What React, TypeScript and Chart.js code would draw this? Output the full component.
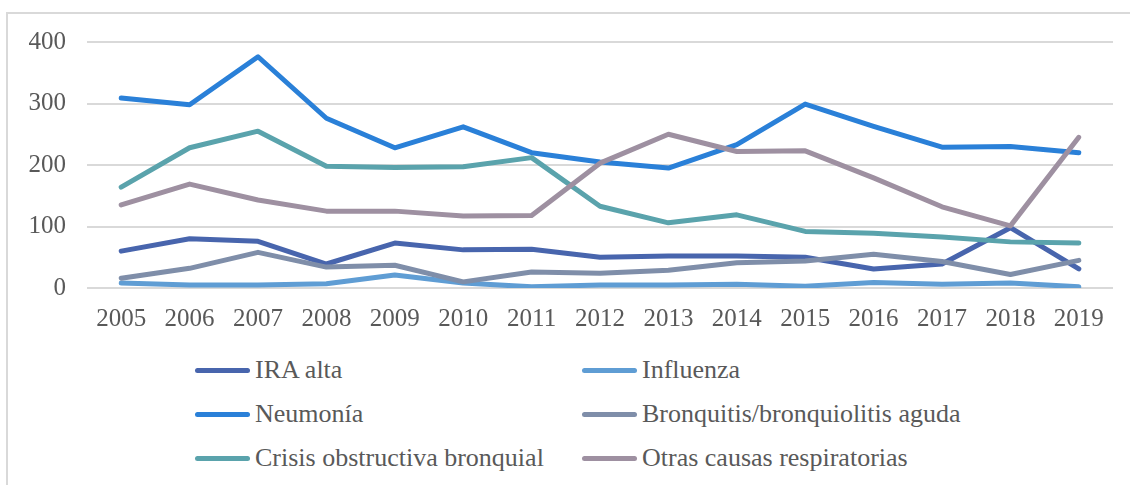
import React, { useEffect, useRef } from "react";
import { Chart, registerables } from "chart.js";

Chart.register(...registerables);

const years = ["2005","2006","2007","2008","2009","2010","2011","2012","2013","2014","2015","2016","2017","2018","2019"];
const iraAlta = [60, 80, 76, 39, 73, 62, 63, 50, 52, 52, 50, 31, 39, 98, 31];
const influenza = [8, 5, 5, 7, 21, 8, 2, 5, 5, 6, 3, 9, 6, 8, 2];
const neumonia = [309, 298, 376, 276, 228, 262, 220, 205, 195, 233, 299, 263, 229, 230, 220];
const bronquitis = [16, 32, 58, 34, 37, 10, 26, 24, 29, 41, 44, 55, 43, 22, 45];
const crisis = [164, 228, 255, 198, 196, 197, 212, 133, 106, 119, 92, 89, 83, 75, 73];
const otras = [135, 169, 143, 125, 125, 117, 118, 203, 250, 222, 223, 179, 132, 101, 245];
const yTicks = [0, 100, 200, 300, 400];

const seriesNames = ["IRA alta", "Influenza", "Neumonía", "Bronquitis/bronquiolitis aguda", "Crisis obstructiva bronquial", "Otras causas respiratorias"];
const seriesData = [iraAlta, influenza, neumonia, bronquitis, crisis, otras];
const seriesColors = ["#4865AD", "#5F9DD4", "#2A80D8", "#7F8EA9", "#5AA3AC", "#9E90A1"];

const FONT = "'Liberation Serif', serif";
const TEXT = "#595959";

export default function App() {
  const ref = useRef<HTMLCanvasElement | null>(null);
  useEffect(() => {
    if (!ref.current) return;
    const chart = new Chart(ref.current, {
      type: "line",
      data: {
        labels: years,
        datasets: seriesData.map((d, i) => ({
          label: seriesNames[i],
          data: d,
          borderColor: seriesColors[i],
          backgroundColor: seriesColors[i],
          borderWidth: 5,
          pointRadius: 0,
          tension: 0,
          borderCapStyle: "round" as const,
          borderJoinStyle: "round" as const,
          order: seriesData.length - i,
        })),
      },
      options: {
        animation: false,
        responsive: false,
        maintainAspectRatio: false,
        layout: { padding: { left: 0, right: 17, top: 42, bottom: 0 } },
        plugins: { legend: { display: false }, tooltip: { enabled: false } },
        scales: {
          x: {
            offset: true,
            grid: { display: false, drawTicks: false },
            border: { display: false },
            ticks: { padding: 16, color: TEXT, font: { family: FONT, size: 25 }, maxRotation: 0, autoSkip: false },
            afterFit: (s: any) => { s.height = 52; },
          },
          y: {
            min: 0,
            max: 400,
            afterBuildTicks: (s: any) => { s.ticks = yTicks.map((v) => ({ value: v })); },
            grid: { color: "#d9d9d9", lineWidth: 2, drawTicks: false },
            border: { display: false },
            ticks: { padding: 21, color: TEXT, font: { family: FONT, size: 25 } },
            afterFit: (s: any) => { s.width = 87; },
          },
        },
      },
    });
    return () => chart.destroy();
  }, []);

  const rows = [0, 1, 2];
  const rowY = [370, 414, 458];
  const colX = [195, 582];

  return (
    <div style={{ position: "fixed", left: 0, top: 0, width: 1130, height: 485, overflow: "hidden", background: "#fff" }}>
      <div style={{ position: "absolute", left: 6, top: 12, width: 1200, height: 600, border: "2px solid #d9d9d9", boxSizing: "border-box" }} />
      <canvas ref={ref} width={1130} height={340} style={{ position: "absolute", left: 0, top: 0, width: 1130, height: 340 }} />
      {rows.map((r) =>
        [0, 1].map((c) => {
          const i = r * 2 + c;
          return (
            <div key={i} style={{ position: "absolute", left: colX[c], top: rowY[r] - 15, height: 30, display: "flex", alignItems: "center", whiteSpace: "nowrap" }}>
              <span style={{ display: "inline-block", width: 55, height: 5, borderRadius: 3, background: seriesColors[i], marginRight: 5 }} />
              <span style={{ fontFamily: FONT, fontSize: 26, color: TEXT, lineHeight: "30px" }}>{seriesNames[i]}</span>
            </div>
          );
        })
      )}
    </div>
  );
}
